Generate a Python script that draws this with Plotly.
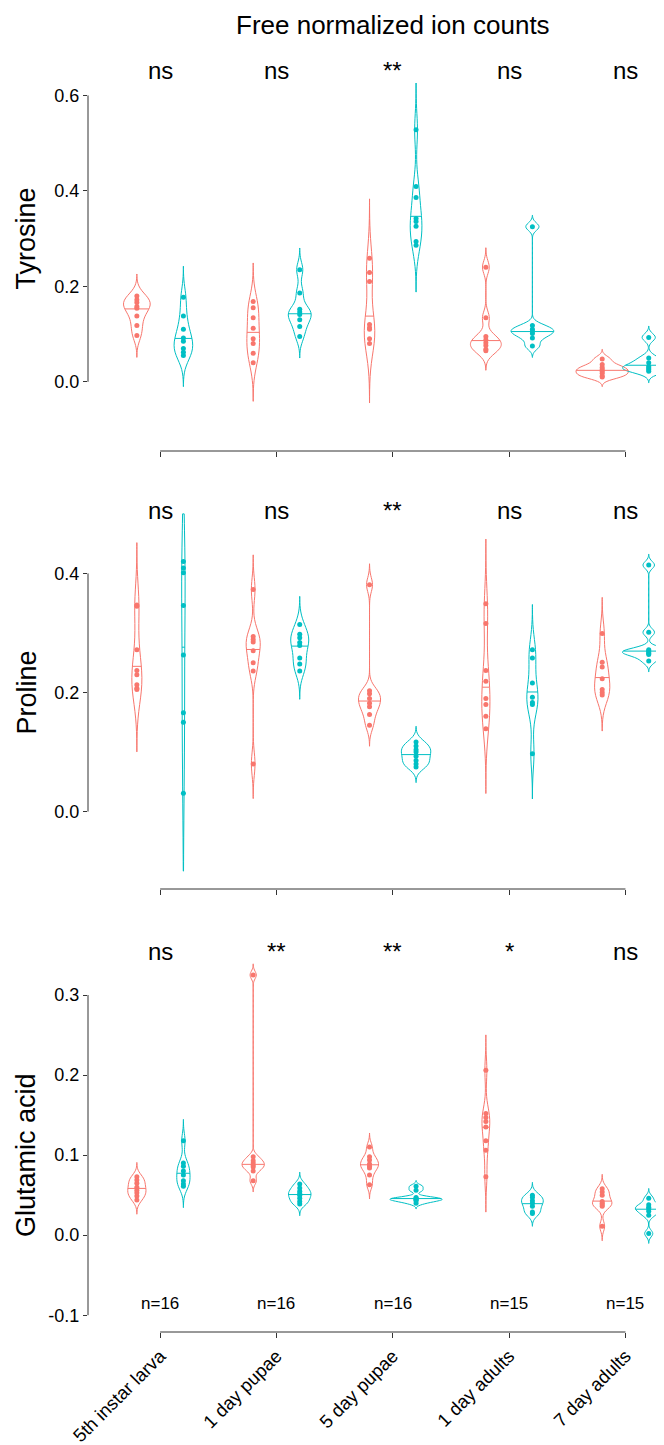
import numpy as np
import plotly.graph_objects as go

# categories / labels
stages = ["5th instar larva", "1 day pupae", "5 day pupae", "1 day adults", "7 day adults"]
n_text = ["n=16", "n=16", "n=16", "n=15", "n=15"]

# Tyrosine
tyr_red = [
    [0.180, 0.172, 0.166, 0.158, 0.154, 0.138, 0.118, 0.097],
    [0.168, 0.155, 0.134, 0.112, 0.090, 0.080, 0.060, 0.040],
    [0.259, 0.229, 0.210, 0.120, 0.113, 0.110, 0.090, 0.080],
    [0.240, 0.134, 0.095, 0.088, 0.082, 0.076, 0.068, 0.065],
    [0.048, 0.036, 0.030, 0.026, 0.022, 0.018, 0.012, 0.010],
]
tyr_cyan = [
    [0.177, 0.138, 0.110, 0.092, 0.085, 0.070, 0.062, 0.055],
    [0.235, 0.186, 0.152, 0.146, 0.141, 0.130, 0.116, 0.095],
    [0.528, 0.409, 0.386, 0.342, 0.336, 0.326, 0.294, 0.286],
    [0.325, 0.118, 0.110, 0.106, 0.101, 0.092, 0.075],
    [0.093, 0.050, 0.040, 0.032, 0.029, 0.026, 0.022],
]
tyr_sig = ["ns", "ns", "**", "ns", "ns"]

# Proline
pro_red = [
    [0.347, 0.345, 0.272, 0.237, 0.230, 0.213, 0.207, 0.205],
    [0.373, 0.294, 0.289, 0.285, 0.270, 0.250, 0.236, 0.080],
    [0.381, 0.203, 0.198, 0.190, 0.182, 0.176, 0.163, 0.145],
    [0.349, 0.316, 0.237, 0.219, 0.190, 0.180, 0.160, 0.139],
    [0.299, 0.251, 0.243, 0.223, 0.205, 0.200, 0.196],
]
pro_cyan = [
    [0.420, 0.409, 0.401, 0.346, 0.263, 0.166, 0.150, 0.031],
    [0.314, 0.298, 0.292, 0.284, 0.279, 0.258, 0.248, 0.236],
    [0.117, 0.110, 0.104, 0.100, 0.093, 0.086, 0.080, 0.075],
    [0.272, 0.258, 0.216, 0.192, 0.183, 0.180, 0.097],
    [0.414, 0.301, 0.272, 0.270, 0.268, 0.266, 0.264, 0.253],
]
pro_sig = ["ns", "ns", "**", "ns", "ns"]

# Glutamic acid
glu_red = [
    [0.073, 0.069, 0.065, 0.060, 0.056, 0.053, 0.049, 0.044],
    [0.325, 0.098, 0.093, 0.090, 0.087, 0.085, 0.080, 0.068],
    [0.110, 0.098, 0.094, 0.089, 0.086, 0.084, 0.075, 0.063],
    [0.206, 0.152, 0.147, 0.142, 0.135, 0.118, 0.106, 0.073],
    [0.058, 0.054, 0.050, 0.042, 0.040, 0.038, 0.036, 0.011],
]
glu_cyan = [
    [0.118, 0.090, 0.086, 0.080, 0.075, 0.068, 0.064, 0.061],
    [0.064, 0.059, 0.055, 0.052, 0.050, 0.046, 0.042, 0.039],
    [0.061, 0.056, 0.047, 0.046, 0.045, 0.044, 0.043, 0.040],
    [0.050, 0.047, 0.043, 0.040, 0.036, 0.029, 0.027],
    [0.046, 0.038, 0.035, 0.033, 0.030, 0.025, 0.002],
]
glu_sig = ["ns", "**", "**", "*", "ns"]

RED = "#F8766D"
CYAN = "#00BFC4"
H = 1445
FONT = "Liberation Sans, Arial, sans-serif"

# panel setup: y ticks, scale limits (violins are cut there), shown range, pixel top/bottom
panels = [
    dict(name="Tyrosine", red=tyr_red, cyan=tyr_cyan, sig=tyr_sig,
         ticks=[0.0, 0.2, 0.4, 0.6], lim=[-0.1, 0.653], rng=[-0.145, 0.691],
         px=(44, 443), sig_y=0.653),
    dict(name="Proline", red=pro_red, cyan=pro_cyan, sig=pro_sig,
         ticks=[0.0, 0.2, 0.4], lim=[-0.1, 0.5], rng=[-0.13, 0.53],
         px=(488, 881), sig_y=0.505),
    dict(name="Glutamic acid", red=glu_red, cyan=glu_cyan, sig=glu_sig,
         ticks=[-0.1, 0.0, 0.1, 0.2, 0.3], lim=[-0.1, 0.355], rng=[-0.121, 0.3775],
         px=(925, 1324), sig_y=0.355),
]


def bw_nrd0(v):
    v = np.asarray(v, float)
    sd = v.std(ddof=1)
    q75, q25 = np.percentile(v, [75, 25])
    lo = min(sd, (q75 - q25) / 1.34)
    if lo == 0:
        lo = sd if sd > 0 else 1.0
    return 0.9 * lo * len(v) ** -0.2


def kde(v, bw, t):
    v = np.asarray(v, float)
    t = np.atleast_1d(t)
    z = (t[:, None] - v[None, :]) / bw
    return np.exp(-0.5 * z ** 2).sum(1) / (len(v) * bw * np.sqrt(2 * np.pi))


fig = go.Figure()
annotations = []
shapes = []

for p_i, p in enumerate(panels):
    xa = "x" if p_i == 0 else "x%d" % (p_i + 1)
    ya = "y" if p_i == 0 else "y%d" % (p_i + 1)

    # density info for every violin of this panel (ggplot "area" scaling)
    groups = []
    for i in range(len(stages)):
        for vals, col, off in [(p["red"][i], RED, -0.2), (p["cyan"][i], CYAN, 0.2)]:
            bw = bw_nrd0(vals)
            lo = max(min(vals) - 3 * bw, p["lim"][0])
            hi = min(max(vals) + 3 * bw, p["lim"][1])
            t = np.linspace(min(vals) - 3 * bw, max(vals) + 3 * bw, 512)
            d = kde(vals, bw, t)
            keep = (t >= lo) & (t <= hi)
            cdf = np.cumsum(d[keep]) / d[keep].sum()
            med = float(np.interp(0.5, cdf, t[keep]))
            groups.append(dict(vals=vals, col=col, x=i + off, bw=bw, span=[lo, hi],
                               dmax=d.max(), med=med, dmed=float(kde(vals, bw, med)[0])))
    pmax = max(g["dmax"] for g in groups)

    for g in groups:
        fig.add_trace(go.Violin(
            x=[g["x"]] * len(g["vals"]), y=g["vals"],
            width=0.45 * g["dmax"] / pmax,
            bandwidth=g["bw"], spanmode="manual", span=g["span"],
            points="all", pointpos=0, jitter=0,
            line=dict(color=g["col"], width=1),
            fillcolor="rgba(0,0,0,0)",
            marker=dict(color=g["col"], size=5),
            box_visible=False, meanline_visible=False,
            showlegend=False, xaxis=xa, yaxis=ya,
        ))
        half = 0.225 * g["dmed"] / pmax
        fig.add_trace(go.Scatter(
            x=[g["x"] - half, g["x"] + half], y=[g["med"], g["med"]],
            mode="lines", line=dict(color=g["col"], width=1),
            showlegend=False, hoverinfo="skip", xaxis=xa, yaxis=ya,
        ))

    top, bot = p["px"]
    dom = [1 - bot / H, 1 - top / H]
    ax_key = "xaxis" if p_i == 0 else "xaxis%d" % (p_i + 1)
    ay_key = "yaxis" if p_i == 0 else "yaxis%d" % (p_i + 1)
    last = p_i == len(panels) - 1
    fig.update_layout({
        ax_key: dict(domain=[0, 1], anchor=ya, range=[-0.62, 4.40],
                     tickvals=list(range(len(stages))), ticktext=stages,
                     showticklabels=last, tickangle=-45,
                     tickfont=dict(family=FONT, size=18.5, color="black"),
                     ticks="outside", ticklen=5, tickcolor="#333", tickwidth=1,
                     showline=False, showgrid=False, zeroline=False, automargin=False),
        ay_key: dict(domain=dom, anchor=xa, range=p["rng"],
                     tickvals=p["ticks"], ticktext=["%.1f" % v for v in p["ticks"]],
                     tickfont=dict(family=FONT, size=18, color="black"),
                     ticks="outside", ticklen=4, tickcolor="#333", tickwidth=1,
                     showline=False, showgrid=False, zeroline=False, automargin=False),
    })

    # axis lines limited to the tick range
    shapes.append(dict(type="line", xref=xa + " domain", x0=0, x1=0, yref=ya,
                       y0=min(p["ticks"]), y1=max(p["ticks"]),
                       line=dict(color="#333", width=1)))
    shapes.append(dict(type="line", xref=xa, x0=0, x1=len(stages) - 1,
                       yref=ya + " domain", y0=0, y1=0,
                       line=dict(color="#333", width=1)))

    for i, s in enumerate(p["sig"]):
        annotations.append(dict(x=i, y=p["sig_y"], xref=xa, yref=ya, text=s,
                                showarrow=False, font=dict(family=FONT, size=24, color="black")))

    annotations.append(dict(x=-79 / 584, xref="paper", xanchor="left",
                            y=(min(p["ticks"]) + max(p["ticks"])) / 2, yref=ya,
                            text=p["name"], textangle=-90, showarrow=False,
                            font=dict(family=FONT, size=27, color="black")))

    if last:
        for i, s in enumerate(n_text):
            annotations.append(dict(x=i, y=-0.085, xref=xa, yref=ya, text=s,
                                    showarrow=False, font=dict(family=FONT, size=17, color="black")))

annotations.append(dict(x=2, xref="x", y=1, yref="paper", yanchor="top",
                        text="Free normalized ion counts", showarrow=False,
                        font=dict(family=FONT, size=26, color="black")))

fig.update_layout(
    width=664, height=H,
    margin=dict(l=80, r=0, t=0, b=0),
    plot_bgcolor="white", paper_bgcolor="white",
    violinmode="overlay",
    annotations=annotations, shapes=shapes,
    showlegend=False,
)

fig.write_html("out.html")
